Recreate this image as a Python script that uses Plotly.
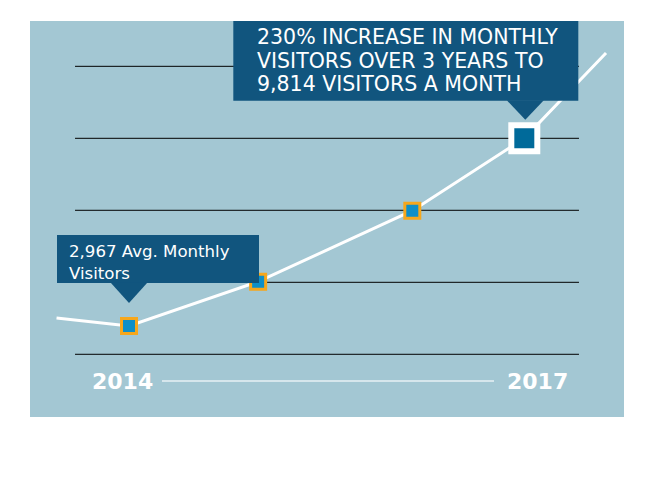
import plotly.graph_objects as go

# ---- data ----
years = [2013.45, 2014.0, 2014.98, 2016.15, 2017.0, 2017.62]
visitors = [3259, 2967, 4583, 7173, 9814, 12926]
marker_idx = [1, 2, 3]
highlight_idx = 4
grid_vals = [1935, 4561, 7188, 9814, 12440]
year_labels = ["2014", "2017"]
year_label_x = [2014, 2017]
note_small = "2,967 Avg. Monthly<br>Visitors"
note_big_lines = ["230% INCREASE IN MONTHLY",
                  "VISITORS OVER 3 YEARS TO",
                  "9,814 VISITORS A MONTH"]

BG = "#A3C7D3"
BOX = "#11557E"
ORANGE = "#F6A71C"
BLUE = "#0E8FC8"
DARKBLUE = "#006A9A"
FONT = "DejaVu Sans"

fig = go.Figure()

fig.add_trace(go.Scatter(x=years, y=visitors, mode="lines",
                         line=dict(color="white", width=3), hoverinfo="skip"))
fig.add_trace(go.Scatter(x=[years[i] for i in marker_idx],
                         y=[visitors[i] for i in marker_idx], mode="markers",
                         marker=dict(symbol="square", size=15, color=BLUE,
                                     line=dict(color=ORANGE, width=3)),
                         hoverinfo="skip"))
fig.add_trace(go.Scatter(x=[years[highlight_idx]], y=[visitors[highlight_idx]],
                         mode="markers",
                         marker=dict(symbol="square", size=26, color=DARKBLUE,
                                     line=dict(color="white", width=6)),
                         hoverinfo="skip"))

shapes = []
for g in grid_vals:
    shapes.append(dict(type="line", xref="paper", yref="y", x0=0.0758, x1=0.9242,
                       y0=g, y1=g, line=dict(color="black", width=1), layer="below"))

# callout 1
p1x, p1y = years[1], visitors[1]
shapes.append(dict(type="rect", xref="x", yref="y", xsizemode="pixel", ysizemode="pixel",
                   xanchor=p1x, yanchor=p1y, x0=-72, x1=130, y0=43, y1=91,
                   fillcolor=BOX, line=dict(width=0)))
shapes.append(dict(type="path", xref="x", yref="y", xsizemode="pixel", ysizemode="pixel",
                   xanchor=p1x, yanchor=p1y, path="M -18.5,43.5 L 18.5,43.5 L 0,23 Z",
                   fillcolor=BOX, line=dict(width=0)))
# callout 2
p4x, p4y = years[highlight_idx], visitors[highlight_idx]
shapes.append(dict(type="rect", xref="x", yref="y", xsizemode="pixel", ysizemode="pixel",
                   xanchor=p4x, yanchor=p4y, x0=-291, x1=54, y0=37.5, y1=118,
                   fillcolor=BOX, line=dict(width=0)))
shapes.append(dict(type="path", xref="x", yref="y", xsizemode="pixel", ysizemode="pixel",
                   xanchor=p4x, yanchor=p4y, path="M -17.5,38 L 19.5,38 L 1,18.5 Z",
                   fillcolor=BOX, line=dict(width=0)))
# timeline line
shapes.append(dict(type="line", xref="x", yref="paper", xsizemode="pixel",
                   xanchor=year_label_x[0], x0=33, x1=365, y0=0.0909, y1=0.0909,
                   line=dict(color="#D6E6EC", width=2)))

annotations = [
    dict(x=p1x, y=p1y, xref="x", yref="y", text=note_small, showarrow=False,
         xanchor="left", yanchor="middle", align="left", xshift=-62, yshift=64,
         font=dict(family=FONT, size=16.6, color="white")),
    dict(x=year_label_x[0], y=0.0909, xref="x", yref="paper", text="<b>" + year_labels[0] + "</b>",
         showarrow=False, xanchor="center", yanchor="middle", xshift=-7,
         font=dict(family=FONT, size=22, color="white")),
    dict(x=year_label_x[1], y=0.0909, xref="x", yref="paper", text="<b>" + year_labels[1] + "</b>",
         showarrow=False, xanchor="center", yanchor="middle", xshift=13,
         font=dict(family=FONT, size=22, color="white")),
]
for line, ys in zip(note_big_lines, [101.0, 77.6, 54.0]):
    annotations.append(dict(x=p4x, y=p4y, xref="x", yref="y", text=line, showarrow=False,
                            xanchor="left", yanchor="middle", align="left",
                            xshift=-269, yshift=ys,
                            font=dict(family=FONT, size=20.5, color="white")))

fig.update_layout(
    width=641, height=472,
    margin=dict(l=22, r=25, t=13, b=63),
    paper_bgcolor="white", plot_bgcolor=BG,
    showlegend=False,
    xaxis=dict(range=[2013.2487, 2017.7565], visible=False, fixedrange=True),
    yaxis=dict(range=[-352.7, 14093.4], visible=False, fixedrange=True),
    shapes=shapes, annotations=annotations,
)

fig.write_html("out.html")
